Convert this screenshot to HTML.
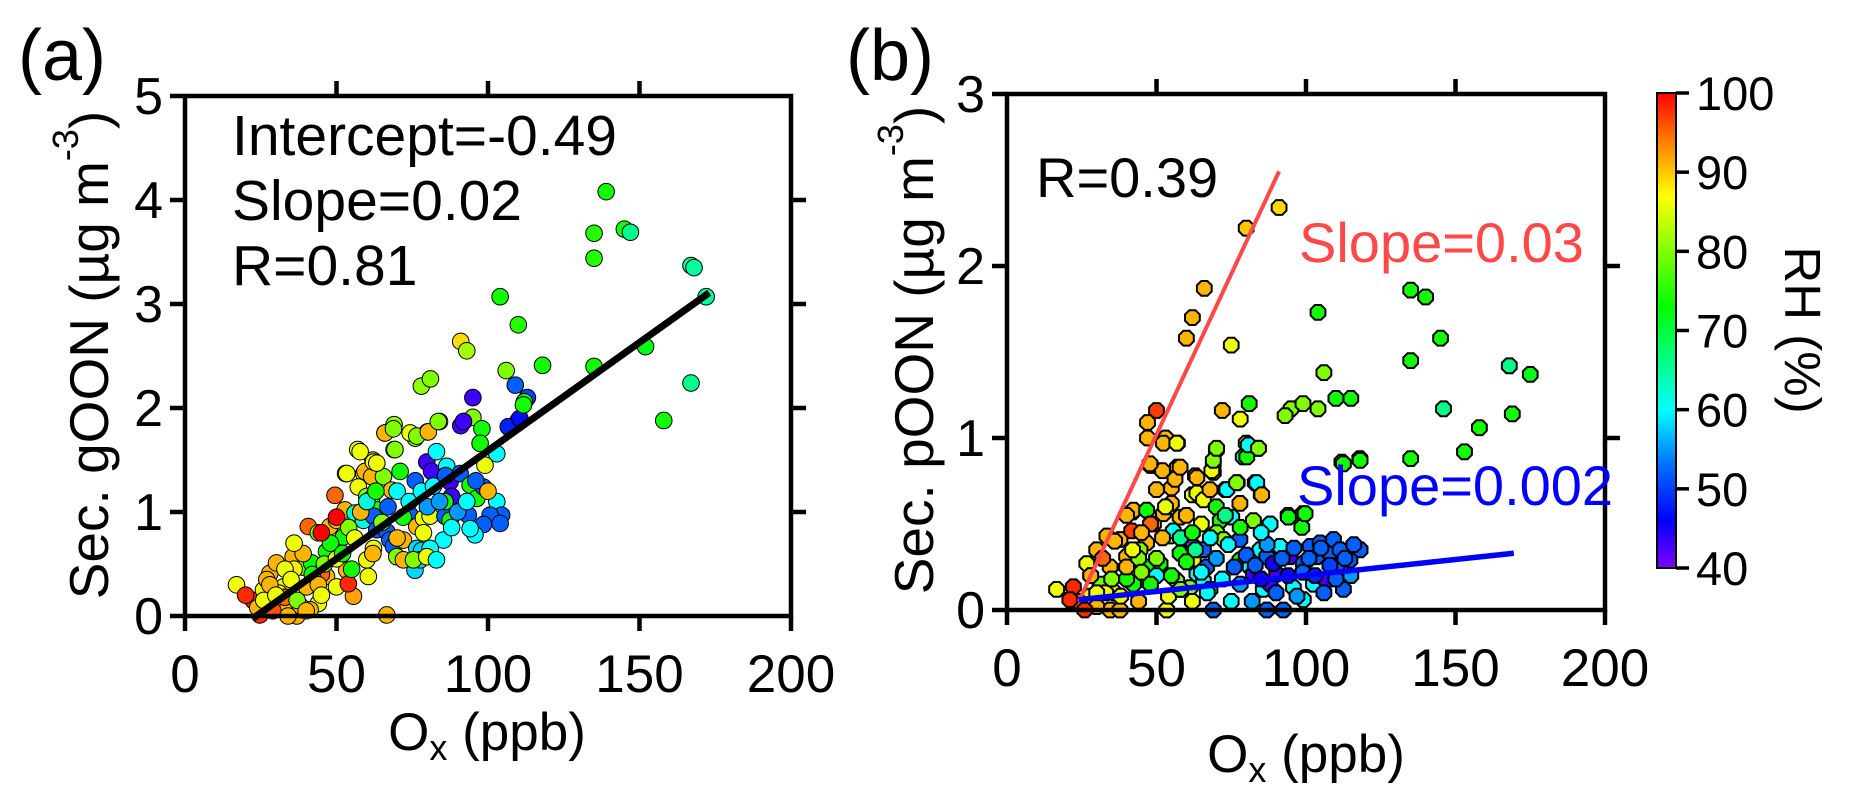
<!DOCTYPE html>
<html><head><meta charset="utf-8">
<style>
html,body{margin:0;padding:0;background:#fff;}
svg{display:block;font-family:"Liberation Sans",Arial,sans-serif;}
</style></head>
<body>
<svg id="chart" width="1859" height="808" viewBox="0 0 1859 808" xmlns="http://www.w3.org/2000/svg">
<defs>
<linearGradient id="cbgrad" x1="0" y1="1" x2="0" y2="0">
<stop offset="0" stop-color="#8000ff"/><stop offset="0.1" stop-color="#0000ff"/><stop offset="0.217" stop-color="#0070ff"/><stop offset="0.333" stop-color="#00ffff"/><stop offset="0.55" stop-color="#00ff00"/><stop offset="0.783" stop-color="#ffff00"/><stop offset="0.883" stop-color="#ff9000"/><stop offset="1" stop-color="#ff0000"/>
</linearGradient>
</defs>
<g id="panelA"></g>
<g id="panelB"></g>
<g id="cbar"></g>
</svg>
<script>
// Panel (a) data: Ox (ppb), Sec. gOON, RH (%)
const aX=[139,135,145,147,135,167,104,110,91,93,118,135,152,167,158,78,81,106,109,113,112,95,92,91,95,98,107,110,84,80,76,66,69,69,57,62,59,53,172,168,
17.0,22.5,24.7,25.9,28.0,30.2,32.5,34.1,36.9,35.7,39.0,41.8,40.1,44.0,41.3,40.7,44.0,47.8,46.7,50.0,52.3,52.8,49.5,46.7,50.0,53.4,55.6,53.9,60.0,60.5,62.2,56.1,58.9,53.4,57.2,59.4,61.6,57.8,62.2,60.0,61.6,63.3,66.0,68.8,69.3,65.5,68.2,71.0,62.2,63.3,66.6,67.6,68.8,69.9,72.1,74.3,76.5,78.7,80.9,76.5,78.1,75.9,77.6,72.1,75.4,74.3,76.5,80.3,83.6,79.8,81.4,83.0,86.4,87.5,88.0,85.8,85.8,90.8,91.9,94.1,96.3,93.5,98.5,97.4,102.9,102.9,104.5,100.7,98.5,95.7,94.1,104.0,106.7,110.5,85.3,80.9,79.8,83.0,78.7,87.5,63.3,66.6,111.7,20,27,31,36,45,38,29,33,24,
26,28,30,33,35,37,39,42,44,46,48,50,52,54,56,58,60,63,65,67,70,72,74,76,78,80,82,84,86,88,90,93,96,99,100,34,40,45,55,62,70,36,50,45];
const aY=[4.08,3.68,3.72,3.69,3.44,3.37,3.07,2.80,2.64,2.55,2.41,2.40,2.59,2.24,1.88,2.21,2.28,2.36,2.22,2.10,2.06,2.10,1.87,1.83,1.91,1.80,1.81,1.88,1.87,1.77,1.71,1.76,1.84,1.60,1.60,1.50,1.37,1.37,3.07,3.35,
0.30,0.15,0.01,0.25,0.41,0.51,0.28,0.09,0.00,0.57,0.47,0.51,0.28,0.12,0.06,0.86,0.80,0.86,0.62,0.92,0.76,1.02,1.16,0.38,0.28,0.44,0.19,0.31,0.54,0.38,0.65,0.99,0.92,1.37,1.24,1.39,1.34,1.58,1.48,1.15,1.13,1.02,1.76,1.80,1.60,1.34,1.21,1.39,0.96,0.83,0.81,0.73,0.67,0.57,0.73,0.97,0.86,0.94,0.96,0.65,0.63,0.44,0.54,0.54,0.54,1.76,1.73,1.77,1.87,1.48,1.39,1.58,1.44,1.29,1.15,0.96,1.10,1.37,1.87,1.26,1.13,0.97,1.24,1.66,1.56,1.10,0.97,0.97,0.88,0.78,0.84,0.89,1.82,1.90,0.73,0.65,0.57,0.54,0.80,0.92,1.47,0.01,2.03,0.2,0.35,0.22,0.45,0.4,0.1,0.05,0.18,0.08,
0.15,0.3,0.2,0.45,0.35,0.15,0.6,0.4,0.3,0.5,0.7,0.55,0.6,0.85,0.75,1.0,1.1,1.2,0.9,1.05,1.2,0.95,1.1,1.3,1.2,1.05,1.25,1.1,1.35,0.85,1.0,1.1,1.3,1.45,1.2,0.0,0.05,0.2,0.45,0.6,0.75,0.7,0.95,0.8];
const aRH=[74,75,74,66,75,65,74,75,89,82,74,74,72,66,74,81,80,80,52,50,74,43,43,43,80,74,50,50,81,90,80,81,81,80,86,90,88,90,65,65,
86,98,98,86,91,91,86,91,91,91,80,74,91,86,91,95,80,91,74,91,74,91,95,91,86,91,92,98,86,86,86,62,62,86,86,91,91,86,86,80,74,74,91,80,80,80,91,74,52,52,52,52,52,80,91,52,91,86,86,58,58,58,58,91,80,86,80,91,80,43,43,60,60,43,43,52,74,52,43,74,74,52,52,74,60,60,52,52,52,60,60,52,48,47,60,60,86,60,86,74,86,91,74,98,91,86,88,95,91,96,
95,91,86,91,86,86,86,80,91,74,91,80,74,86,74,80,86,91,62,74,80,52,60,74,60,52,60,55,60,55,52,60,55,60,52,86,91,91,91,86,74,91,91,86];
const aLineX=[22.5,173];
const aIntercept=-0.49, aSlope=0.0208;
const aXTicks=[0,50,100,150,200], aYTicks=[0,1,2,3,4,5];

// Panel (b) data: Ox (ppb), Sec. pOON, RH (%)
const bX=[91,80,66,62,60,75,135,140,104,145,135,106,110,115,81,72,78,95,99,104,93,146,158,153,135,112,118,50,47,47,53,57,70,69,69,80,84,79,48,52,57,63,77,83,85,55,62,73,94,99,88,42,168,175,169,
16.6,22.2,25.5,27.8,26.7,30.0,33.4,34.5,31.1,34.5,37.8,37.8,40.0,41.7,42.3,42.3,46.7,46.7,47.8,49.0,52.3,52.3,51.2,46.7,44.5,54.5,53.4,56.2,55.6,57.9,57.9,56.8,57.9,56.8,60.1,61.2,62.3,63.5,63.5,65.7,67.9,68.5,69.0,70.1,62.3,65.7,66.8,63.5,65.7,67.9,69.0,71.3,70.1,72.4,73.5,75.2,76.8,77.9,77.9,77.9,81.3,80.2,80.7,82.4,83.5,85.2,84.1,82.4,84.6,85.7,86.9,86.9,88.0,88.0,90.2,91.3,92.4,94.1,94.7,95.8,98.6,99.1,99.7,99.1,101.4,102.5,103.6,104.7,106.9,108.0,109.2,110.3,111.4,112.5,112.5,118.1,118.1,114.7,24,28,36,40,44,30,26,50,58,21,33,
28,30,32,35,38,40,42,44,45,48,50,52,54,55,58,60,62,63,65,67,70,72,74,75,76,78,80,82,83,85,87,89,90,92,94,96,97,99,101,103,105,106,108,110,113,115,116,60,55,48,45,65,70,58,36,40,50,53,62,85,78,73,68];
const bY=[2.34,2.22,1.87,1.70,1.58,1.54,1.86,1.82,1.73,1.58,1.45,1.38,1.23,1.23,1.20,1.16,1.11,1.17,1.20,1.17,1.13,1.17,1.06,0.92,0.88,0.86,0.88,1.16,1.09,1.00,1.00,0.97,0.93,0.85,0.80,0.97,0.94,0.89,0.84,0.81,0.83,0.78,0.74,0.74,0.67,0.71,0.67,0.70,0.55,0.56,0.50,0.57,1.42,1.37,1.14,
0.12,0.135,0.02,0.08,0.27,0.35,0.43,0.25,0.15,0.00,0.00,0.41,0.31,0.46,0.58,0.15,0.58,0.39,0.85,0.50,0.56,0.97,0.27,0.25,0.35,0.43,0.00,0.76,0.46,0.54,0.83,0.97,0.33,0.17,0.42,0.13,0.29,0.68,0.77,0.64,0.70,0.81,0.87,0.94,0.37,0.35,0.25,0.21,0.17,0.12,0.00,0.52,0.45,0.41,0.70,0.54,0.74,0.62,0.41,0.29,0.25,0.89,0.96,0.52,0.74,0.67,0.94,0.21,0.35,0.12,0.31,0.00,0.50,0.15,0.21,0.37,0.00,0.54,0.31,0.13,0.48,0.27,0.56,0.06,0.37,0.15,0.31,0.39,0.17,0.33,0.41,0.25,0.35,0.12,0.85,0.87,0.35,0.29,0.05,0.2,0.1,0.18,0.3,0.02,0.0,0.2,0.12,0.06,0.1,
0.2,0.1,0.3,0.18,0.08,0.25,0.35,0.05,0.22,0.15,0.3,0.42,0.08,0.2,0.12,0.28,0.05,0.35,0.22,0.1,0.3,0.18,0.38,0.05,0.25,0.15,0.32,0.05,0.26,0.18,0.38,0.27,0.1,0.3,0.2,0.36,0.08,0.22,0.3,0.2,0.36,0.1,0.26,0.18,0.3,0.2,0.38,0.55,0.62,0.5,0.45,0.5,0.6,0.42,0.4,0.55,0.7,0.6,0.45,0.45,0.48,0.55,0.42];
const bRH=[89,90,91,91,91,86,74,74,74,74,74,80,74,74,74,91,86,80,80,80,80,66,74,74,74,74,74,97,91,91,91,86,80,86,86,86,80,66,91,91,91,91,74,60,91,91,86,60,74,74,60,90,66,72,74,
86,98,98,86,86,91,91,91,80,91,91,91,91,97,91,74,74,91,91,91,91,91,74,74,80,86,86,91,60,91,91,86,74,80,60,80,86,86,91,86,91,86,80,80,52,52,52,60,60,74,52,74,80,80,60,60,80,91,52,74,60,74,60,80,60,91,80,43,60,60,52,52,60,43,43,60,52,74,43,60,74,52,74,60,52,60,52,52,43,52,52,52,52,52,74,74,52,52,95,86,86,74,80,91,98,60,52,98,86,
91,86,95,80,86,91,86,91,80,74,80,91,86,74,80,74,86,66,60,60,55,60,60,60,52,55,52,55,52,45,55,45,52,52,45,52,55,52,52,48,52,52,50,52,52,55,52,91,91,95,91,86,74,66,91,91,91,86,74,60,74,66,60];
const bRedLine=[[24,0.05],[91,2.55]];
const bBlueLine=[[24,0.06],[169.5,0.33]];
const bXTicks=[0,50,100,150,200], bYTicks=[0,1,2,3];
const cbTicks=[40,50,60,70,80,90,100];

const NS='http://www.w3.org/2000/svg';
function mk(tag,attrs,parent){const e=document.createElementNS(NS,tag);for(const k in attrs)e.setAttribute(k,attrs[k]);parent.appendChild(e);return e;}
const stops=[[40,[128,0,255]],[46,[0,0,255]],[53,[0,112,255]],[60,[0,255,255]],[73,[0,255,0]],[87,[255,255,0]],[93,[255,144,0]],[100,[255,0,0]]];
function rhColor(v){v=Math.max(40,Math.min(100,v));for(let i=0;i<stops.length-1;i++){const a=stops[i],b=stops[i+1];if(v<=b[0]){const t=(v-a[0])/(b[0]-a[0]);const c=a[1].map((x,j)=>Math.round(x+(b[1][j]-x)*t));return `rgb(${c[0]},${c[1]},${c[2]})`;}}return 'rgb(255,0,0)';}

// ---- Panel A ----
const A={x0:185,x1:791,y0:616,y1:96,xmax:200,ymax:5};
const axA=v=>A.x0+(A.x1-A.x0)*v/A.xmax, ayA=v=>A.y0-(A.y0-A.y1)*v/A.ymax;
const gA=document.getElementById('panelA');
const ptsA=mk('g',{},gA);


for(let i=0;i<aX.length;i++){
 const c=mk('circle',{cx:axA(aX[i]),cy:ayA(aY[i]),r:8.3,fill:rhColor(aRH[i]),stroke:'#000','stroke-width':1},ptsA);
 
 
}
const la=mk('line',{x1:axA(aLineX[0]),y1:ayA(aIntercept+aSlope*aLineX[0]),x2:axA(aLineX[1]),y2:ayA(aIntercept+aSlope*aLineX[1]),stroke:'#000','stroke-width':7},gA);


function frame(g,P,ax,ay,xt,yt,rightTicks,name){
 const f=mk('rect',{x:P.x0,y:P.y1,width:P.x1-P.x0,height:P.y0-P.y1,fill:'none',stroke:'#000','stroke-width':4.5},g);
 
 
 xt.forEach(v=>{const x=ax(v);
  mk('line',{x1:x,y1:P.y0,x2:x,y2:P.y0+15,stroke:'#000','stroke-width':4.5},g);
  if(v>0&&v<P.xmax) mk('line',{x1:x,y1:P.y1,x2:x,y2:P.y1-15,stroke:'#000','stroke-width':4.5},g);
  const t=mk('text',{x:x,y:P.y0+76,'font-size':53,'text-anchor':'middle'},g);t.textContent=v;
  
  
 });
 yt.forEach(v=>{const y=ay(v);
  mk('line',{x1:P.x0-15,y1:y,x2:P.x0,y2:y,stroke:'#000','stroke-width':4.5},g);
  if(rightTicks&&v>0&&v<P.ymax) mk('line',{x1:P.x1,y1:y,x2:P.x1+15,y2:y,stroke:'#000','stroke-width':4.5},g);
  const t=mk('text',{x:P.x0-22,y:y+18,'font-size':52,'text-anchor':'end'},g);t.textContent=v;
  
  
 });
}
frame(gA,A,axA,ayA,aXTicks,aYTicks,true,'panel-a');

// ---- Panel B ----
const B={x0:1007,x1:1605,y0:610,y1:94,xmax:200,ymax:3};
const axB=v=>B.x0+(B.x1-B.x0)*v/B.xmax, ayB=v=>B.y0-(B.y0-B.y1)*v/B.ymax;
const gB=document.getElementById('panelB');
const ptsB=mk('g',{},gB);


function oct(cx,cy,r){let s=[];for(let k=0;k<8;k++){const a=Math.PI/8+k*Math.PI/4;s.push((cx+r*Math.cos(a)).toFixed(1)+','+(cy+r*Math.sin(a)).toFixed(1));}return s.join(' ');}
for(let i=0;i<bX.length;i++){
 const p=mk('polygon',{points:oct(axB(bX[i]),ayB(bY[i]),8.0),fill:rhColor(bRH[i]),stroke:'#000','stroke-width':2},ptsB);
 
 
}
const lr=mk('line',{x1:axB(bRedLine[0][0]),y1:ayB(bRedLine[0][1]),x2:axB(bRedLine[1][0]),y2:ayB(bRedLine[1][1]),stroke:'#ff4848','stroke-width':4},gB);


const lb=mk('line',{x1:axB(bBlueLine[0][0]),y1:ayB(bBlueLine[0][1]),x2:axB(bBlueLine[1][0]),y2:ayB(bBlueLine[1][1]),stroke:'#0000ff','stroke-width':5.5},gB);


frame(gB,B,axB,ayB,bXTicks,bYTicks,true,'panel-b');

// ---- Colorbar ----
const C={x0:1657,x1:1676,y0:568,y1:93,vmin:40,vmax:100};
const cy=v=>C.y0-(C.y0-C.y1)*(v-C.vmin)/(C.vmax-C.vmin);
const gC=document.getElementById('cbar');
const cr=mk('rect',{x:C.x0,y:C.y1,width:C.x1-C.x0,height:C.y0-C.y1,fill:'url(#cbgrad)',stroke:'#000','stroke-width':2},gC);


cbTicks.forEach(v=>{const y=cy(v);
 mk('line',{x1:C.x1,y1:y,x2:C.x1+13,y2:y,stroke:'#000','stroke-width':3.5},gC);
 const t=mk('text',{x:1696,y:y+17,'font-size':47},gC);t.textContent=v;
 
 
});
</script>
<svg style="position:absolute;left:0;top:0" width="1859" height="808" font-family="Liberation Sans, Arial, sans-serif">
<text x="18" y="80" font-size="72">(a)</text>
<text x="846" y="80" font-size="72">(b)</text>
<text transform="translate(108,355) rotate(-90)" font-size="55" text-anchor="middle">Sec. gOON (µg m<tspan font-size="36" dy="-30">-3</tspan><tspan dy="30">)</tspan></text>
<text transform="translate(933,350) rotate(-90)" font-size="55" text-anchor="middle">Sec. pOON (µg m<tspan font-size="36" dy="-30">-3</tspan><tspan dy="30">)</tspan></text>
<text x="487" y="750" font-size="53" text-anchor="middle">O<tspan font-size="36" dy="10">x</tspan><tspan dy="-10"> (ppb)</tspan></text>
<text x="1306" y="772" font-size="53" text-anchor="middle">O<tspan font-size="36" dy="10">x</tspan><tspan dy="-10"> (ppb)</tspan></text>
<text x="232" y="155" font-size="57">Intercept=-0.49</text>
<text x="232" y="220" font-size="57">Slope=0.02</text>
<text x="232" y="285" font-size="57">R=0.81</text>
<text x="1036" y="197" font-size="56">R=0.39</text>
<text x="1299" y="262" font-size="56" fill="#ff4848">Slope=0.03</text>
<text x="1297" y="505" font-size="56" fill="#0000ff">Slope=0.002</text>
<text transform="translate(1785,330) rotate(90)" font-size="51" text-anchor="middle">RH  (%)</text>
</svg>
</body></html>
